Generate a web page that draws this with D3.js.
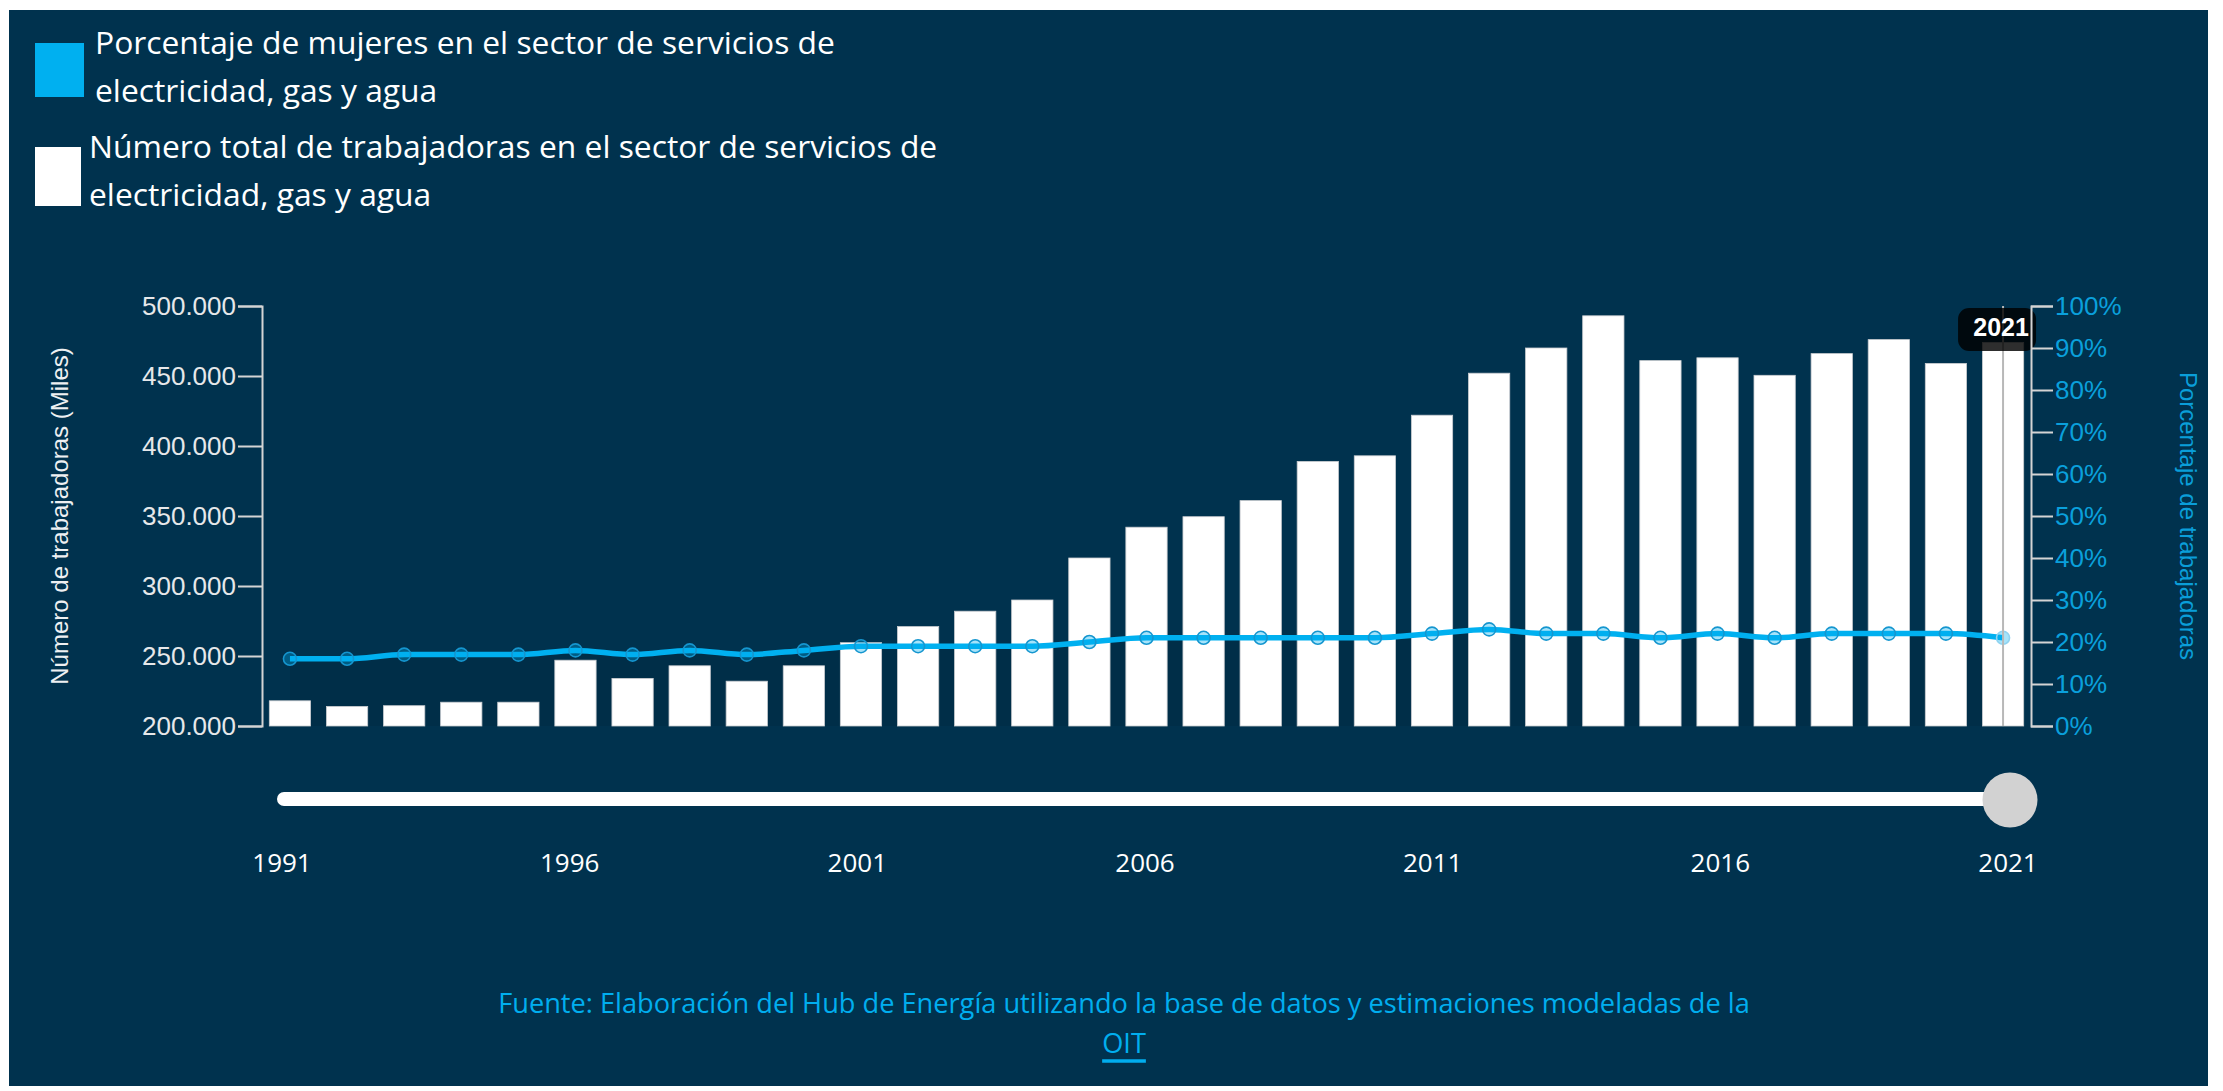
<!DOCTYPE html>
<html lang="es">
<head>
<meta charset="UTF-8" />
<title>Mujeres en el sector de electricidad, gas y agua</title>
<style>
body { margin: 0; background: #ffffff; }
#chart { display: block; }
.leyenda { font-family: "Open Sans", sans-serif; font-size: 31.8px; fill: #ffffff; }
.eje text { font-family: "Liberation Sans", Arial, sans-serif; font-size: 26px; }
.eje path, .eje line { stroke: #d4d4d4; stroke-width: 2; }
.titulo-eje { font-family: "Liberation Sans", Arial, sans-serif; font-size: 24px; }
.anio { font-family: "Open Sans", sans-serif; font-size: 26px; fill: #ffffff; }
.fuente { font-family: "Open Sans", sans-serif; font-size: 27.2px; fill: #00aeef; }
</style>
</head>
<body>
<svg id="chart" width="2223" height="1091"></svg>

<script src="https://cdnjs.cloudflare.com/ajax/libs/d3/7.8.5/d3.min.js"></script>
<script>
// datos
const years = [1991, 1992, 1993, 1994, 1995, 1996, 1997, 1998, 1999, 2000,
  2001, 2002, 2003, 2004, 2005, 2006, 2007, 2008, 2009, 2010,
  2011, 2012, 2013, 2014, 2015, 2016, 2017, 2018, 2019, 2020, 2021];
const trabajadoras = [218000, 214000, 214500, 217000, 217000, 247000, 234000, 243000, 232000, 243000,
  259500, 271000, 282000, 290000, 320000, 342000, 349500, 361000, 389000, 393000,
  422000, 452000, 470000, 493000, 461000, 463000, 450500, 466000, 476000, 459000, 474000];
const porcentaje = [16, 16, 17, 17, 17, 18, 17, 18, 17, 18,
  19, 19, 19, 19, 20, 21, 21, 21, 21, 21,
  22, 23, 22, 22, 21, 22, 21, 22, 22, 22, 21];
const ticksMiles = [200000, 250000, 300000, 350000, 400000, 450000, 500000];
const ticksPct = [0, 10, 20, 30, 40, 50, 60, 70, 80, 90, 100];
const aniosSlider = [1991, 1996, 2001, 2006, 2011, 2016, 2021];
const anioSel = 2021;

const leyenda = [
  {color: '#00b0f0', lineas: ['Porcentaje de mujeres en el sector de servicios de', 'electricidad, gas y agua']},
  {color: '#ffffff', lineas: ['Número total de trabajadoras en el sector de servicios de', 'electricidad, gas y agua']}
];

const data = years.map((y, i) => ({year: y, total: trabajadoras[i], pct: porcentaje[i]}));

const svg = d3.select('#chart');
const W = 2223, H = 1091;

// fondo
svg.append('rect').attr('x', 9).attr('y', 10).attr('width', W - 24).attr('height', H - 15).attr('fill', '#00324e');

// leyenda
const leg = svg.append('g');
leyenda.forEach((d, i) => {
  const g = leg.append('g').attr('transform', `translate(35, ${43 + i * 104})`);
  g.append('rect').attr('width', i == 0 ? 49 : 46).attr('height', i == 0 ? 54 : 59).attr('fill', d.color);
  d.lineas.forEach((t, k) => {
    g.append('text').attr('class', 'leyenda').attr('x', i == 0 ? 60 : 54).attr('y', 11 + k * 48).text(t);
  });
});

// escalas
const margin = {left: 262, right: 2031, top: 306, bottom: 726};
const x = d3.scaleBand().domain(years).range([margin.left, margin.right]).paddingInner(0.277).paddingOuter(0.128);
const yL = d3.scaleLinear().domain([200000, 500000]).range([margin.bottom, margin.top]);
const yR = d3.scaleLinear().domain([0, 100]).range([margin.bottom, margin.top]);
const cx = d => x(d.year) + x.bandwidth() / 2;

const miles = d3.formatLocale({decimal: ',', thousands: '.', grouping: [3], currency: ['', '']}).format(',.0f');

// area tenue bajo la linea (queda detras de las barras)
const area = d3.area().x(cx).y0(yR(0)).y1(d => yR(d.pct)).curve(d3.curveMonotoneX);
svg.append('path').datum(data).attr('d', area).attr('fill', '#000000').attr('opacity', 0.07);

// barras
svg.append('g').selectAll('rect').data(data).enter().append('rect')
  .attr('x', d => x(d.year))
  .attr('y', d => yL(d.total))
  .attr('width', x.bandwidth())
  .attr('height', d => yL(200000) - yL(d.total))
  .attr('fill', '#ffffff')
  .attr('stroke', '#c9ccd0')
  .attr('stroke-width', 0.8);

// linea de porcentaje
const line = d3.line().x(cx).y(d => yR(d.pct)).curve(d3.curveMonotoneX);
svg.append('path').datum(data).attr('d', line)
  .attr('fill', 'none').attr('stroke', '#00b0f0').attr('stroke-width', 5.5);

svg.append('g').selectAll('circle').data(data).enter().append('circle')
  .attr('cx', cx).attr('cy', d => yR(d.pct)).attr('r', 6.5)
  .attr('fill', 'rgba(0,176,240,0.35)')
  .attr('stroke', d => d.year == anioSel ? '#8fd3f0' : '#1596cf')
  .attr('stroke-width', 1.6);

// ejes
const ejeL = svg.append('g').attr('class', 'eje').attr('transform', `translate(${margin.left},0)`)
  .call(d3.axisLeft(yL).tickValues(ticksMiles).tickFormat(miles).tickSize(24).tickPadding(2));
ejeL.selectAll('text').attr('fill', '#e6e8ea');

const ejeR = svg.append('g').attr('class', 'eje').attr('transform', `translate(${margin.right},0)`)
  .call(d3.axisRight(yR).tickValues(ticksPct).tickFormat(d => d + '%').tickSize(22).tickPadding(2));
ejeR.selectAll('text').attr('fill', '#0aa0dc');

svg.append('text').attr('class', 'titulo-eje')
  .attr('transform', `translate(68, ${(margin.top + margin.bottom) / 2}) rotate(-90)`)
  .attr('text-anchor', 'middle').attr('fill', '#eef0f2')
  .text('Número de trabajadoras (Miles)');

svg.append('text').attr('class', 'titulo-eje')
  .attr('transform', `translate(2180, ${(margin.top + margin.bottom) / 2}) rotate(90)`)
  .attr('text-anchor', 'middle').attr('fill', '#0a9ed9')
  .text('Porcentaje de trabajadoras');

// marcador del anio seleccionado
const sel = data.find(d => d.year == anioSel);
svg.append('line').attr('x1', cx(sel)).attr('x2', cx(sel)).attr('y1', yR(100)).attr('y2', yR(0))
  .attr('stroke', '#b8b8b8').attr('stroke-width', 2);
const tip = svg.append('g').attr('transform', `translate(${cx(sel)}, ${yR(100)})`);
tip.append('rect').attr('x', -45).attr('y', 2).attr('width', 78).attr('height', 43).attr('rx', 11)
  .attr('fill', '#000000').attr('opacity', 0.82);
tip.append('text').attr('x', -2).attr('y', 30).attr('text-anchor', 'middle')
  .attr('font-family', '"Liberation Sans", Arial, sans-serif').attr('font-weight', 'bold')
  .attr('font-size', 25).attr('fill', '#ffffff').text(anioSel);
// eje derecho encima del tooltip
ejeR.raise();

// slider
const xs = d3.scaleLinear().domain([1991, 2021]).range([284, 2010]);
svg.append('line').attr('x1', xs(1991)).attr('x2', xs(anioSel)).attr('y1', 799).attr('y2', 799)
  .attr('stroke', '#ffffff').attr('stroke-width', 14).attr('stroke-linecap', 'round');
svg.append('circle').attr('cx', xs(anioSel)).attr('cy', 800).attr('r', 27.5).attr('fill', '#d2d2d2');
svg.append('g').selectAll('text').data(aniosSlider).enter().append('text')
  .attr('class', 'anio').attr('x', d => xs(d) - 2).attr('y', 872).attr('text-anchor', 'middle')
  .text(d => d);

// fuente
svg.append('text').attr('class', 'fuente').attr('x', 1124).attr('y', 1013).attr('text-anchor', 'middle')
  .text('Fuente: Elaboración del Hub de Energía utilizando la base de datos y estimaciones modeladas de la');
const oit = svg.append('text').attr('class', 'fuente').attr('x', 1124).attr('y', 1053).attr('text-anchor', 'middle')
  .text('OIT');
const bb = oit.node().getBBox();
svg.append('line').attr('x1', bb.x).attr('x2', bb.x + bb.width).attr('y1', 1061).attr('y2', 1061)
  .attr('stroke', '#00aeef').attr('stroke-width', 3.5);
</script>
</body>
</html>
